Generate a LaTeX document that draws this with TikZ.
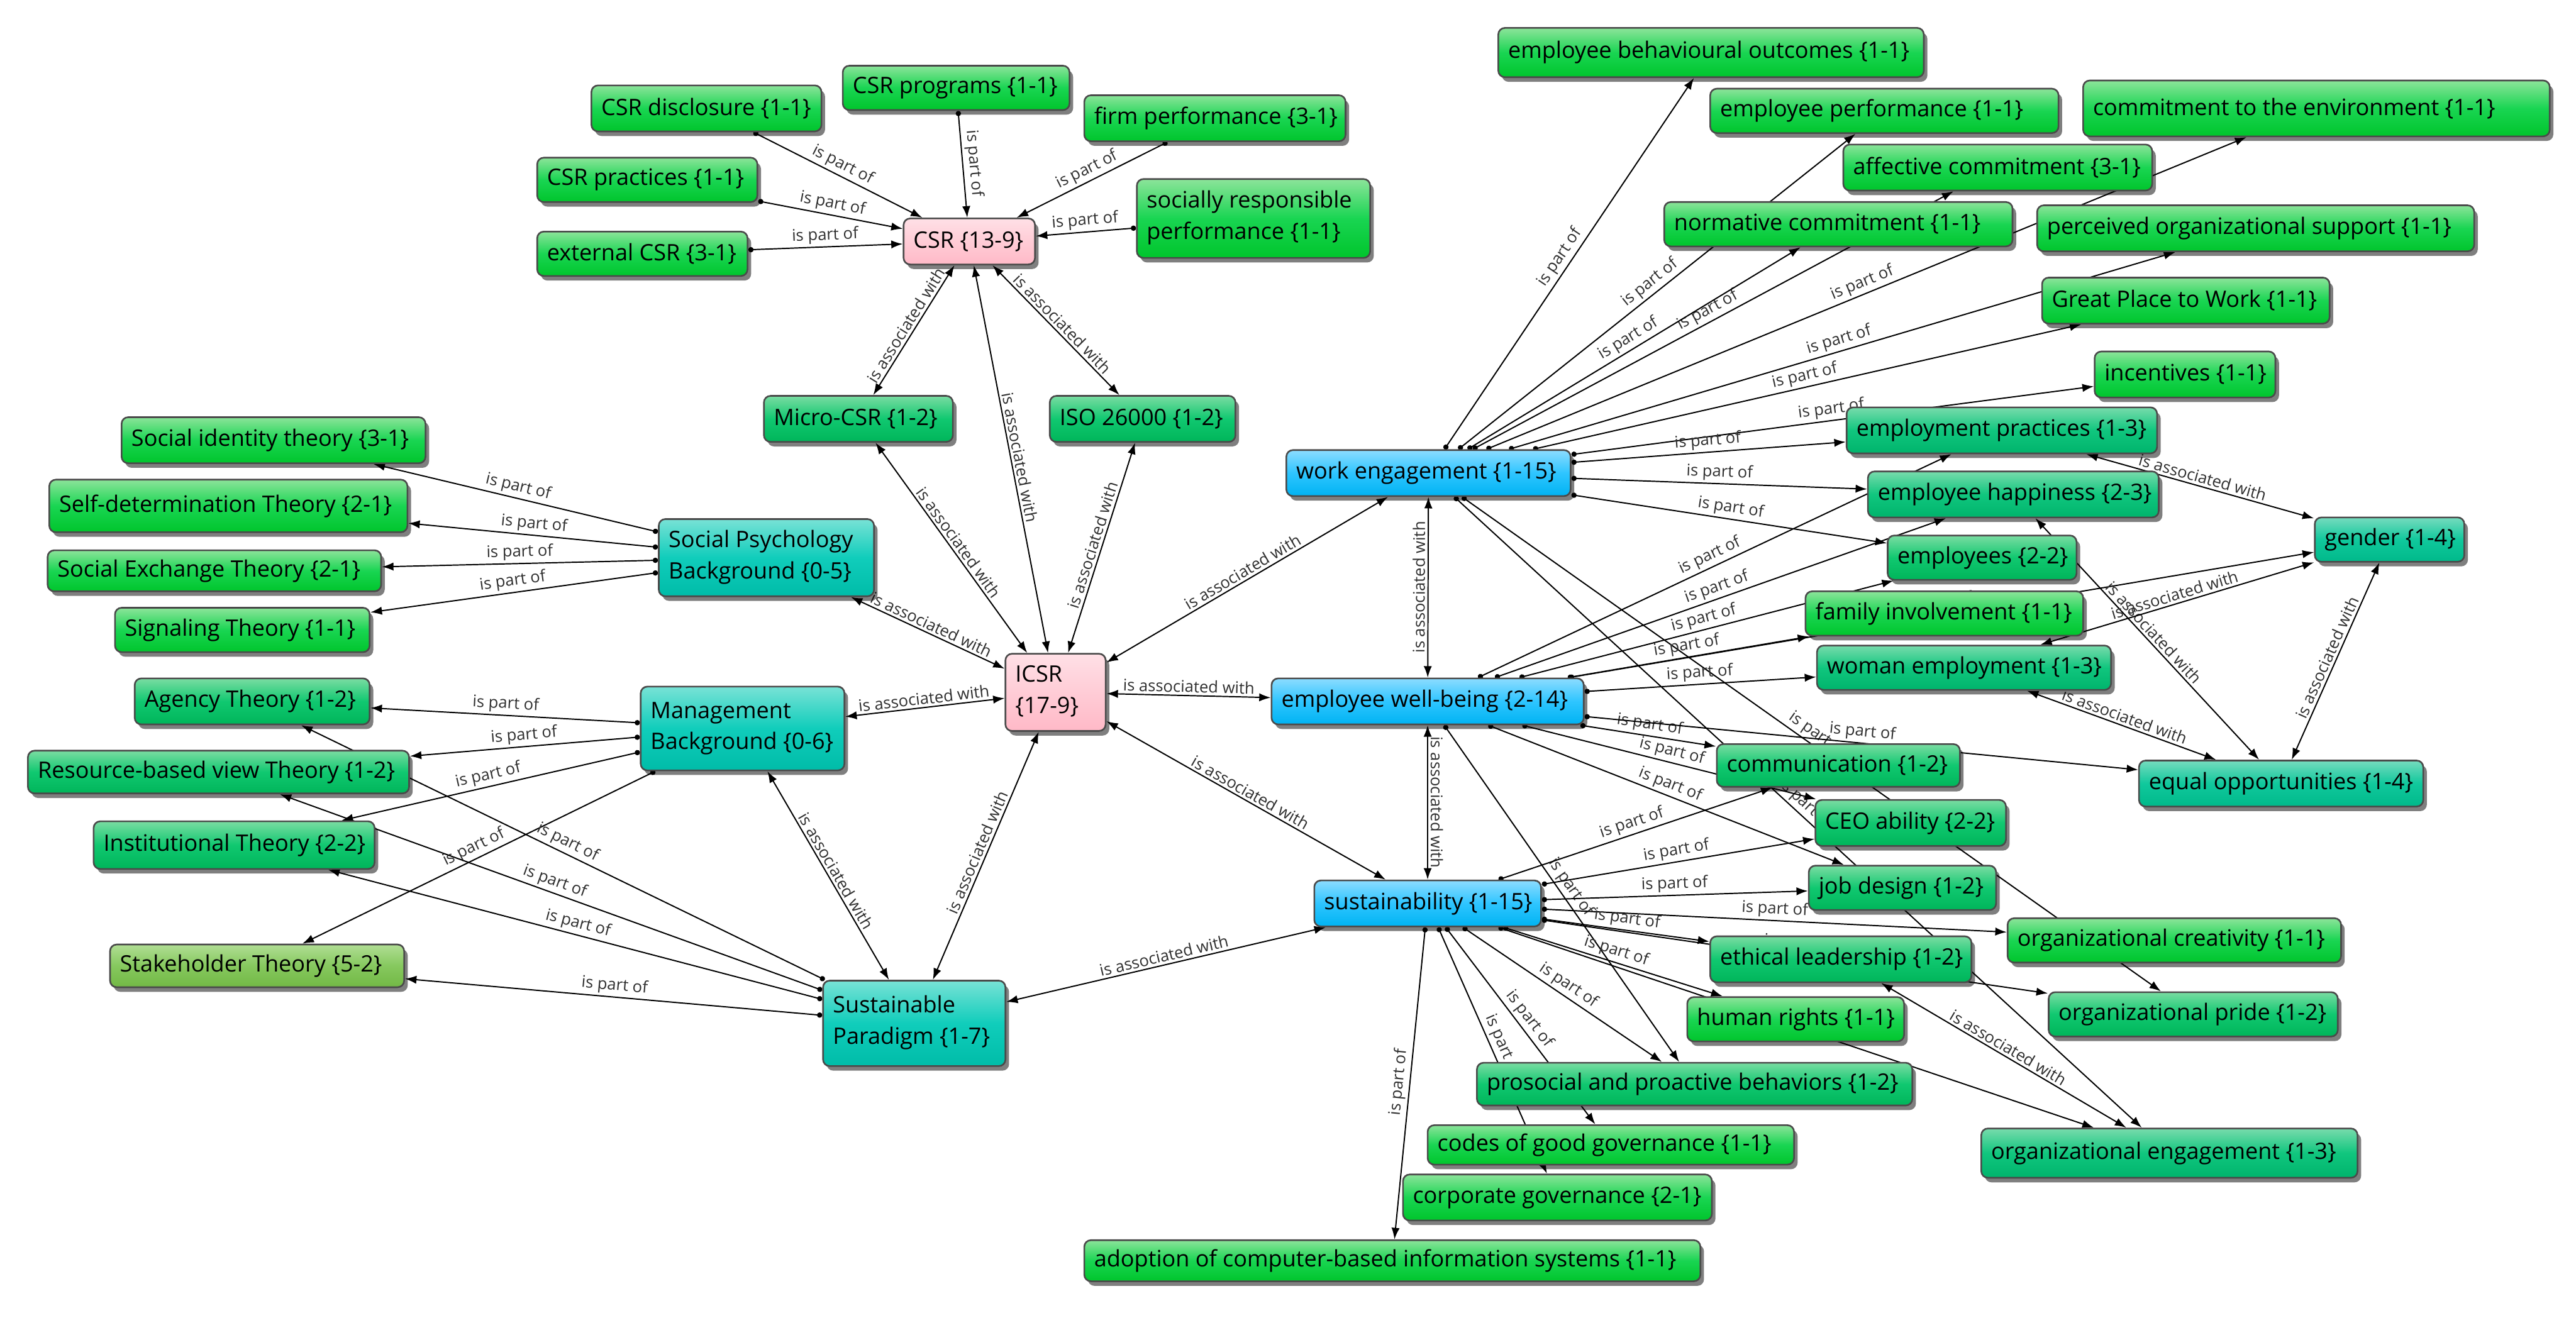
\documentclass[tikz,border=0pt]{standalone}
\usepackage{fontspec}
\setmainfont{Open Sans}
\usetikzlibrary{arrows.meta,shadows}
\pgfdeclarelayer{background}
\pgfsetlayers{background,main}
\definecolor{g1t}{HTML}{8CE49A}\definecolor{g1m}{HTML}{19D552}\definecolor{g1b}{HTML}{00C52C}
\definecolor{g2t}{HTML}{7ADCA2}\definecolor{g2m}{HTML}{10C870}\definecolor{g2b}{HTML}{00B55A}
\definecolor{g3t}{HTML}{78DBAC}\definecolor{g3m}{HTML}{10C67E}\definecolor{g3b}{HTML}{00B46C}
\definecolor{g4t}{HTML}{76DBBE}\definecolor{g4m}{HTML}{10C89C}\definecolor{g4b}{HTML}{00B98A}
\definecolor{tlt}{HTML}{78E2D6}\definecolor{tlm}{HTML}{10CDBB}\definecolor{tlb}{HTML}{00BCA8}
\definecolor{blt}{HTML}{8CDCFF}\definecolor{blm}{HTML}{2EC5FF}\definecolor{blb}{HTML}{00B3F2}
\definecolor{pkt}{HTML}{FFE0E6}\definecolor{pkm}{HTML}{FFCCD6}\definecolor{pkb}{HTML}{FFB9C7}
\definecolor{olt}{HTML}{B0DE94}\definecolor{olm}{HTML}{86C85E}\definecolor{olb}{HTML}{72B845}
\definecolor{bordc}{HTML}{4A4A4A}
\definecolor{labc}{HTML}{303030}
\newcommand\nodebox[7]{%
  \pgfmathsetmacro\nbW{#4-#2}%
  \pgfmathsetmacro\nbH{#5-#3}%
  \pgfmathsetmacro\nbX{(#2+#4)/2}%
  \pgfmathsetmacro\nbY{(#3+#5)/2}%
  \pgfmathsetmacro\nbT{#4-#2-12}%
  \node[box,#6,minimum width=\nbW pt,minimum height=\nbH pt] (#1) at (\nbX,\nbY) {\makebox[\nbT pt][l]{#7}};%
}
\newcommand\twol[2]{\begin{tabular}{@{}l@{}}#1\\[3pt]#2\end{tabular}}
\begin{document}
\begin{tikzpicture}[x=1pt,y=-1pt,
  box/.style={draw=bordc, line width=1pt, rounded corners=4pt, inner xsep=6pt, inner ysep=1pt,
    font=\fontsize{13.8}{16}\selectfont, text=black,
    drop shadow={shadow xshift=2.2pt, shadow yshift=-2.8pt, fill=black, opacity=0.5}},
  c1/.style={top color=g1t, bottom color=g1b, middle color=g1m},
  c2/.style={top color=g2t, bottom color=g2b, middle color=g2m},
  c3/.style={top color=g3t, bottom color=g3b, middle color=g3m},
  c4/.style={top color=g4t, bottom color=g4b, middle color=g4m},
  cteal/.style={top color=tlt, bottom color=tlb, middle color=tlm},
  cblue/.style={top color=blt, bottom color=blb, middle color=blm},
  cpink/.style={top color=pkt, bottom color=pkb, middle color=pkm},
  colive/.style={top color=olt, bottom color=olb, middle color=olm},
  link/.style={draw=black, line width=0.75pt},
  partof/.style={link, arrows={Circle[length=3.2pt]-Latex[length=7pt,width=5pt]}},
  assoc/.style={link, arrows={Latex[length=7pt,width=5pt]-Latex[length=7pt,width=5pt]}},
  lab/.style={midway, sloped, above, font=\fontsize{9.8}{11}\selectfont, text=labc, inner sep=1.5pt}
]
\useasboundingbox (0,0) rectangle (1568,802);
% ---------- CSR cluster
\nodebox{csrdisc}{360}{52}{500}{80}{c1}{CSR disclosure \{1-1\}}
\nodebox{csrprog}{513}{40}{651}{67}{c1}{CSR programs \{1-1\}}
\nodebox{firmperf}{660}{58}{819}{86}{c1}{firm performance \{3-1\}}
\nodebox{csrprac}{327}{96}{461}{123}{c1}{CSR practices \{1-1\}}
\nodebox{srp}{692}{109}{834}{157}{c1}{\twol{socially responsible}{performance \{1-1\}}}
\nodebox{extcsr}{327}{141}{455}{168}{c1}{external CSR \{3-1\}}
\nodebox{csr}{550}{133}{630}{161}{cpink}{CSR \{13-9\}}
\nodebox{micro}{465}{241}{580}{269}{c2}{Micro-CSR \{1-2\}}
\nodebox{iso}{639}{241}{752}{269}{c2}{ISO 26000 \{1-2\}}
% ---------- theories
\nodebox{sit}{74}{254}{259}{282}{c1}{Social identity theory \{3-1\}}
\nodebox{sdt}{30}{292}{248}{324}{c1}{Self-determination Theory \{2-1\}}
\nodebox{set}{29}{335}{232}{360}{c1}{Social Exchange Theory \{2-1\}}
\nodebox{sig}{70}{370}{225}{397}{c1}{Signaling Theory \{1-1\}}
\nodebox{spb}{401}{316}{532}{363}{cteal}{\twol{Social Psychology}{Background \{0-5\}}}
\nodebox{agency}{82}{413}{225}{441}{c2}{Agency Theory \{1-2\}}
\nodebox{rbv}{17}{457}{249}{483}{c2}{Resource-based view Theory \{1-2\}}
\nodebox{inst}{57}{500}{228}{529}{c2}{Institutional Theory \{2-2\}}
\nodebox{stake}{67}{575}{246}{601}{colive}{Stakeholder Theory \{5-2\}}
\nodebox{mb}{390}{418}{514}{469}{cteal}{\twol{Management}{Background \{0-6\}}}
\nodebox{sp}{501}{597}{612}{649}{cteal}{\twol{Sustainable}{Paradigm \{1-7\}}}
\nodebox{icsr}{612}{398}{673}{445}{cpink}{\twol{ICSR}{\{17-9\}}}
% ---------- core blue
\nodebox{we}{783}{274}{956}{302}{cblue}{work engagement \{1-15\}}
\nodebox{ewb}{774}{413}{964}{441}{cblue}{employee well-being \{2-14\}}
\nodebox{sust}{800}{536}{938}{564}{cblue}{sustainability \{1-15\}}
% ---------- top right
\nodebox{ebo}{912}{17}{1171}{47}{c1}{employee behavioural outcomes \{1-1\}}
\nodebox{eperf}{1041}{54}{1253}{81}{c1}{employee performance \{1-1\}}
\nodebox{cenv}{1268}{49}{1552}{83}{c1}{commitment to the environment \{1-1\}}
\nodebox{affc}{1122}{88}{1310}{116}{c1}{affective commitment \{3-1\}}
\nodebox{normc}{1013}{123}{1225}{150}{c1}{normative commitment \{1-1\}}
\nodebox{pos}{1240}{125}{1506}{153}{c1}{perceived organizational support \{1-1\}}
\nodebox{gptw}{1243}{169}{1418}{197}{c1}{Great Place to Work \{1-1\}}
\nodebox{incent}{1275}{214}{1385}{242}{c1}{incentives \{1-1\}}
\nodebox{eprac}{1124}{248}{1313}{276}{c3}{employment practices \{1-3\}}
\nodebox{ehap}{1137}{287}{1314}{315}{c3}{employee happiness \{2-3\}}
\nodebox{gender}{1409}{315}{1500}{342}{c4}{gender \{1-4\}}
\nodebox{employees}{1149}{326}{1264}{353}{c2}{employees \{2-2\}}
\nodebox{famin}{1099}{360}{1268}{387}{c1}{family involvement \{1-1\}}
\nodebox{woman}{1106}{393}{1285}{420}{c3}{woman employment \{1-3\}}
\nodebox{eqopp}{1302}{463}{1475}{491}{c4}{equal opportunities \{1-4\}}
\nodebox{comm}{1045}{453}{1193}{479}{c2}{communication \{1-2\}}
\nodebox{ceo}{1105}{487}{1221}{515}{c2}{CEO ability \{2-2\}}
\nodebox{jobd}{1101}{527}{1215}{554}{c2}{job design \{1-2\}}
\nodebox{ocreat}{1222}{559}{1425}{586}{c1}{organizational creativity \{1-1\}}
\nodebox{ethl}{1041}{570}{1200}{598}{c2}{ethical leadership \{1-2\}}
\nodebox{opride}{1247}{604}{1423}{631}{c2}{organizational pride \{1-2\}}
\nodebox{hr}{1027}{607}{1159}{634}{c1}{human rights \{1-1\}}
\nodebox{prosoc}{899}{647}{1164}{673}{c2}{prosocial and proactive behaviors \{1-2\}}
\nodebox{oeng}{1206}{687}{1435}{717}{c3}{organizational engagement \{1-3\}}
\nodebox{codes}{869}{685}{1092}{709}{c1}{codes of good governance \{1-1\}}
\nodebox{corpg}{854}{715}{1042}{743}{c1}{corporate governance \{2-1\}}
\nodebox{adopt}{660}{755}{1035}{780}{c1}{adoption of computer-based information systems \{1-1\}}
% ---------- connectors
\begin{pgfonlayer}{background}
\fill[white] (0,0) rectangle (1568,802);
% CSR
\draw[partof] (csrdisc) -- node[lab]{is part of} (csr);
\draw[partof] (csrprog) -- node[lab]{is part of} (csr);
\draw[partof] (firmperf) -- node[lab]{is part of} (csr);
\draw[partof] (csrprac) -- node[lab]{is part of} (csr);
\draw[partof] (extcsr) -- node[lab]{is part of} (csr);
\draw[partof] (srp) -- node[lab]{is part of} (csr);
\draw[assoc] (csr) -- node[lab]{is associated with} (micro);
\draw[assoc] (csr) -- node[lab]{is associated with} (iso);
\draw[assoc] (csr) -- node[lab]{is associated with} (icsr);
\draw[assoc] (micro) -- node[lab]{is associated with} (icsr);
\draw[assoc] (iso) -- node[lab]{is associated with} (icsr);
% theories
\draw[partof] (spb) -- node[lab]{is part of} (sit);
\draw[partof] (spb) -- node[lab]{is part of} (sdt);
\draw[partof] (spb) -- node[lab]{is part of} (set);
\draw[partof] (spb) -- node[lab]{is part of} (sig);
\draw[partof] (mb) -- node[lab]{is part of} (agency);
\draw[partof] (mb) -- node[lab]{is part of} (rbv);
\draw[partof] (mb) -- node[lab]{is part of} (inst);
\draw[partof] (mb) -- node[lab]{is part of} (stake);
\draw[partof] (sp) -- node[lab]{is part of} (agency);
\draw[partof] (sp) -- node[lab]{is part of} (rbv);
\draw[partof] (sp) -- node[lab]{is part of} (inst);
\draw[partof] (sp) -- node[lab]{is part of} (stake);
\draw[assoc] (spb) -- node[lab]{is associated with} (icsr);
\draw[assoc] (mb) -- node[lab]{is associated with} (icsr);
\draw[assoc] (mb) -- node[lab]{is associated with} (sp);
\draw[assoc] (sp) -- node[lab]{is associated with} (icsr);
\draw[assoc] (sp) -- node[lab]{is associated with} (sust);
\draw[assoc] (icsr) -- node[lab]{is associated with} (we);
\draw[assoc] (icsr) -- node[lab]{is associated with} (ewb);
\draw[assoc] (icsr) -- node[lab]{is associated with} (sust);
\draw[assoc] (we) -- node[lab]{is associated with} (ewb);
\draw[assoc] (ewb) -- node[lab]{is associated with} (sust);
% work engagement
\draw[partof] (we) -- node[lab]{is part of} (ebo);
\draw[partof] (we) -- node[lab]{is part of} (eperf);
\draw[partof] (we) -- node[lab]{is part of} (affc);
\draw[partof] (we) -- node[lab]{is part of} (normc);
\draw[partof] (we) -- node[lab]{is part of} (cenv);
\draw[partof] (we) -- node[lab]{is part of} (pos);
\draw[partof] (we) -- node[lab]{is part of} (gptw);
\draw[partof] (we) -- node[lab]{is part of} (incent);
\draw[partof] (we) -- node[lab]{is part of} (eprac);
\draw[partof] (we) -- node[lab]{is part of} (ehap);
\draw[partof] (we) -- node[lab]{is part of} (employees);
\draw[partof] (we) -- node[lab]{is part of} (oeng);
\draw[partof] (we) -- node[lab]{is part of} (opride);
% employee well-being
\draw[partof] (ewb) -- node[lab]{is part of} (ehap);
\draw[partof] (ewb) -- node[lab]{is part of} (eprac);
\draw[partof] (ewb) -- node[lab]{is part of} (employees);
\draw[partof] (ewb) -- node[lab]{is part of} (famin);
\draw[partof] (ewb) -- node[lab]{is part of} (gender);
\draw[partof] (ewb) -- node[lab]{is part of} (woman);
\draw[partof] (ewb) -- node[lab]{is part of} (comm);
\draw[partof] (ewb) -- node[lab]{is part of} (eqopp);
\draw[partof] (ewb) -- node[lab]{is part of} (ceo);
\draw[partof] (ewb) -- node[lab]{is part of} (jobd);
\draw[partof] (ewb) -- node[lab]{is part of} (prosoc);
% sustainability
\draw[partof] (sust) -- node[lab]{is part of} (comm);
\draw[partof] (sust) -- node[lab]{is part of} (ceo);
\draw[partof] (sust) -- node[lab]{is part of} (jobd);
\draw[partof] (sust) -- node[lab]{is part of} (ocreat);
\draw[partof] (sust) -- node[lab]{is part of} (ethl);
\draw[partof] (sust) -- node[lab]{is part of} (hr);
\draw[partof] (sust) -- node[lab]{is part of} (oeng);
\draw[partof] (sust) -- node[lab]{is part of} (opride);
\draw[partof] (sust) -- node[lab]{is part of} (prosoc);
\draw[partof] (sust) -- node[lab]{is part of} (codes);
\draw[partof] (sust) -- node[lab]{is part of} (corpg);
\draw[partof] (sust) -- node[lab]{is part of} (adopt);
% associations on the right
\draw[assoc] (eprac) -- node[lab]{is associated with} (gender);
\draw[assoc] (ehap) -- node[lab]{is associated with} (eqopp);
\draw[assoc] (woman) -- node[lab]{is associated with} (gender);
\draw[assoc] (woman) -- node[lab]{is associated with} (eqopp);
\draw[assoc] (gender) -- node[lab]{is associated with} (eqopp);
\draw[assoc] (ethl) -- node[lab]{is associated with} (oeng);
\end{pgfonlayer}
\end{tikzpicture}
\end{document}
